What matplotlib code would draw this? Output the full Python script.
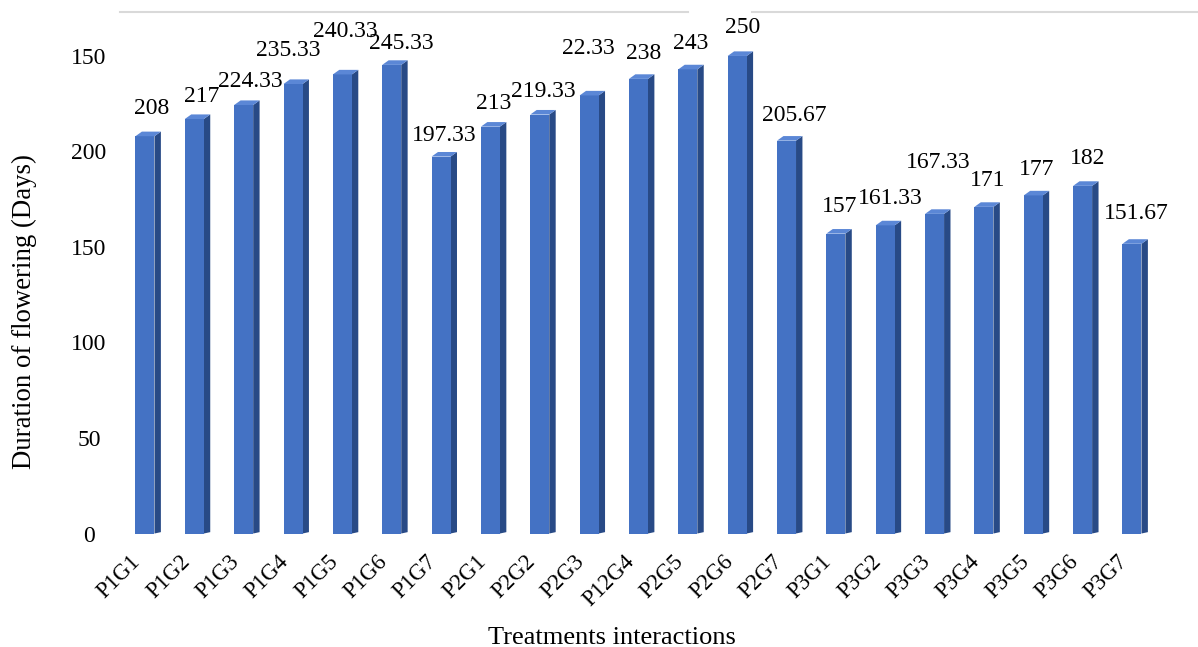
import matplotlib
matplotlib.use('Agg')
import matplotlib.pyplot as plt
from matplotlib.patches import Polygon
from matplotlib.lines import Line2D

plt.rcParams['font.family'] = ['Liberation Serif', 'DejaVu Serif']

# data
treatments = ['P1G1', 'P1G2', 'P1G3', 'P1G4', 'P1G5', 'P1G6', 'P1G7',
              'P2G1', 'P2G2', 'P2G3', 'P12G4', 'P2G5', 'P2G6', 'P2G7',
              'P3G1', 'P3G2', 'P3G3', 'P3G4', 'P3G5', 'P3G6', 'P3G7']
values = [208, 217, 224.33, 235.33, 240.33, 245.33, 197.33,
          213, 219.33, 229.33, 238, 243, 250, 205.67,
          157, 161.33, 167.33, 171, 177, 182, 151.67]
value_labels = ['208', '217', '224.33', '235.33', '240.33', '245.33', '197.33',
                '213', '219.33', '22.33', '238', '243', '250', '205.67',
                '157', '161.33', '167.33', '171', '177', '182', '151.67']
ytick_vals = [0, 50, 100, 150, 200, 250]
ytick_labels = ['0', '50', '100', '150', '200', '150']

# label placement (pixels): gap above bar, horizontal shift
label_gap = [13, 7, 8, 18, 28, 6, 6, 8, 8, 32, 10, 11, 13, 10,
             12, 12, 36, 11, 11, 12, 15]
label_dx = [3, 4, 3, -8, 0, 6, 0, 0, 0, -4, 2, 0, 2, 5,
            1, 2, 0, 1, 0, 2, 1]

front = '#4472C4'
side = '#284A86'
top = '#5B87D6'

fig = plt.figure(figsize=(11.98, 6.47), dpi=100)
ax = fig.add_axes([0.0963, 0.1754, 0.8733, 0.806])

w = 0.385     # front face width
dx = 0.13     # depth offset (x)
dy = 2.4      # depth offset (y, data units)

x = list(range(len(values)))
ax.bar(x, values, width=w, color=front, zorder=3)
for xi, v in zip(x, values):
    r = xi + w / 2
    l = xi - w / 2
    ax.add_patch(Polygon([(r, 0), (r + dx, dy * 0.3), (r + dx, v + dy), (r, v)],
                         closed=True, facecolor=side, edgecolor='none', zorder=2))
    ax.add_patch(Polygon([(l, v), (l + dx, v + dy), (r + dx, v + dy), (r, v)],
                         closed=True, facecolor=top, edgecolor='none', zorder=4))

for xi, v, lab, g, sx in zip(x, values, value_labels, label_gap, label_dx):
    ax.annotate(lab, (xi + dx / 2, v + dy), xytext=(sx * 0.72, g * 0.72),
                textcoords='offset points', ha='center', va='bottom',
                fontsize=17)

# category labels, rotated, hanging below each bar
for xi, name in zip(x, treatments):
    ax.annotate(name, (xi, 0), xycoords=('data', 'axes fraction'),
                xytext=(-10.8, -12.5), textcoords='offset points',
                rotation=45, ha='right', va='top', rotation_mode='anchor',
                fontsize=16.5)

ax.set_xlim(-0.6, 20.6)
ax.set_ylim(0, 273)
ax.set_yticks(ytick_vals)
ax.set_yticklabels(ytick_labels, fontsize=17, ha='center')
ax.set_xticks([])
ax.tick_params(axis='y', length=0, pad=19)
for s in ax.spines.values():
    s.set_visible(False)

fig.text(0.02, 1 - 312 / 647, 'Duration of flowering (Days)', rotation=90,
         ha='center', va='center', fontsize=19.3)
fig.text(0.511, 1 - 644 / 647, 'Treatments interactions', ha='center',
         va='baseline', fontsize=19)

# broken light-grey line across the top
fig.add_artist(Line2D([120 / 1198, 688 / 1198], [1 - 12 / 647] * 2,
                      color='#D9D9D9', lw=1.5))
fig.add_artist(Line2D([752 / 1198, 1.0], [1 - 12 / 647] * 2,
                      color='#D9D9D9', lw=1.5))

fig.savefig('out.png', dpi=100)
